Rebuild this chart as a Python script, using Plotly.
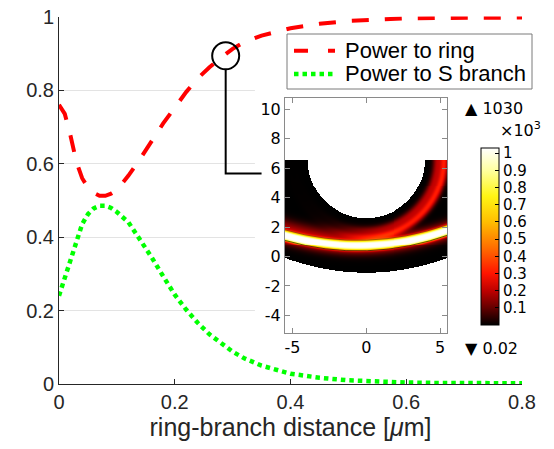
import numpy as np
import plotly.graph_objects as go

# ---------------- main chart data ----------------
dist = [0, 0.01, 0.02, 0.03, 0.04, 0.05, 0.06, 0.07, 0.08, 0.09, 0.10,
        0.12, 0.14, 0.16, 0.18, 0.20, 0.22, 0.24, 0.26, 0.28, 0.30,
        0.32, 0.35, 0.40, 0.45, 0.50, 0.55, 0.60, 0.65, 0.70, 0.75, 0.80]
p_ring = [0.76, 0.735, 0.675, 0.605, 0.56, 0.535, 0.52, 0.512, 0.512, 0.518, 0.528,
          0.567, 0.612, 0.66, 0.709, 0.752, 0.795, 0.832, 0.862, 0.888, 0.912,
          0.93, 0.948, 0.968, 0.98, 0.988, 0.992, 0.995, 0.996, 0.997, 0.997, 0.997]
p_branch = [0.24, 0.29, 0.345, 0.39, 0.435, 0.462, 0.478, 0.485, 0.485, 0.479, 0.468,
            0.44, 0.395, 0.345, 0.293, 0.243, 0.202, 0.166, 0.135, 0.11, 0.088,
            0.07, 0.05, 0.028, 0.017, 0.01, 0.006, 0.004, 0.003, 0.002, 0.002, 0.002]
series_names = ["Power to ring", "Power to S branch"]
x_ticks = [0, 0.2, 0.4, 0.6, 0.8]
y_ticks = [0, 0.2, 0.4, 0.6, 0.8, 1]

# callout (circle on the ring curve, leader line to inset)
callout_center = (0.288, 0.893)
callout_path = [(0.288, 0.856), (0.288, 0.573), (0.35, 0.573)]

# ---------------- inset field (modelled intensity map) ----------------
inset_x_ticks = [-5, 0, 5]
inset_y_ticks = [-4, -2, 0, 2, 4, 6, 8, 10]
cbar_ticks = [0.1, 0.2, 0.3, 0.4, 0.5, 0.6, 0.7, 0.8, 0.9, 1]
cbar_labels = ["0.1", "0.2", "0.3", "0.4", "0.5", "0.6", "0.7", "0.8", "0.9", "1"]
field_max = 1.03
domain_top = 6.58
hole_radius = 3.97
outer_bottom = (-1.1, 0.033)          # y = a + b x^2
band_centre = (0.75, 0.029, 0.032)    # y = a + b x^2 + c x
band_half = 0.36
ring_radii = [5.25, 4.78]
ring_amps = [0.3, 0.18]

gx = np.linspace(-5.5, 5.47, 166)
gy = np.linspace(-5.16, 10.8, 240)
X, Y = np.meshgrid(gx, gy)
inside = (Y <= domain_top) & (Y >= outer_bottom[0] + outer_bottom[1] * X**2) & \
         (X**2 + (Y - domain_top)**2 >= hole_radius**2)
yc = band_centre[0] + band_centre[1] * X**2 + band_centre[2] * X
d = Y - yc
band = 0.75 * np.exp(-(d / band_half)**4) + 0.3 * np.exp(-(d / 0.55)**2)
R = np.sqrt(X**2 + (Y - domain_top)**2)
ramp = 1 / (1 + np.exp(-(X + 0.3) / 0.9))
ring = sum(a * ramp * np.exp(-((R - r) / 0.28)**2) for r, a in zip(ring_radii, ring_amps))
glow = 0.1 * (1 - ramp) * np.exp(-((d - 0.7) / 0.5)**2)
Z = np.clip(band + ring + glow, 0, field_max)
Z = np.where(inside, Z, np.nan)

# waveguide edge lines drawn on top of the field
edge_x = gx
edge_lo = band_centre[0] + band_centre[1] * gx**2 + band_centre[2] * gx - band_half
edge_hi = edge_lo + 2 * band_half

hot = [[0.0, "rgb(0,0,0)"], [0.097, "rgb(100,0,0)"], [0.194, "rgb(190,0,0)"],
       [0.291, "rgb(255,20,0)"], [0.437, "rgb(255,110,0)"], [0.583, "rgb(255,190,0)"],
       [0.728, "rgb(255,245,20)"], [0.874, "rgb(255,255,160)"], [1.0, "rgb(255,255,255)"]]

W, H = 554, 449
def px(xp): return xp / W
def py(yp): return 1 - yp / H

fig = go.Figure()
fig.add_trace(go.Scatter(x=dist, y=p_ring, mode="lines", name=series_names[0], showlegend=False,
                         line=dict(color="#ff0000", width=4, dash="17px,16px")))
fig.add_trace(go.Scatter(x=dist, y=p_branch, mode="lines", name=series_names[1], showlegend=False,
                         line=dict(color="#00ff00", width=4.5, dash="4.5px,4px")))
fig.add_trace(go.Heatmap(x=gx, y=gy, z=Z, xaxis="x2", yaxis="y2", zmin=0, zmax=field_max,
                         colorscale=hot, showlegend=False, hoverinfo="skip",
                         colorbar=dict(x=px(481), xanchor="left", xpad=0,
                                       y=py(236.5), yanchor="middle", ypad=0,
                                       len=177, lenmode="pixels", thickness=18,
                                       thicknessmode="pixels", outlinecolor="black",
                                       outlinewidth=1, tickvals=cbar_ticks, ticktext=cbar_labels,
                                       ticks="inside", ticklen=4, tickcolor="black",
                                       tickfont=dict(family="DejaVu Sans", size=15, color="black"))))
for ey, op in ((edge_lo, 0.75), (edge_hi, 0.45)):
    fig.add_trace(go.Scatter(x=edge_x, y=ey, xaxis="x2", yaxis="y2", mode="lines",
                             showlegend=False, hoverinfo="skip",
                             line=dict(color=f"rgba(50,45,0,{op})", width=1)))

main_font = "Liberation Sans, Arial, sans-serif"
fig.update_layout(
    width=W, height=H, margin=dict(l=0, r=0, t=0, b=0, autoexpand=False),
    paper_bgcolor="white", plot_bgcolor="white", showlegend=False,
    xaxis=dict(domain=[px(59), px(522)], range=[0, 0.8], tickvals=x_ticks,
               ticktext=["0", "0.2", "0.4", "0.6", "0.8"], showgrid=False, zeroline=False,
               showline=True, linecolor="#262626", linewidth=1, ticks="inside", ticklen=5,
               tickcolor="#262626", tickfont=dict(family=main_font, size=20, color="#262626"),
               title=dict(text="ring-branch distance [<i>μ</i>m]",
                          font=dict(family=main_font, size=25, color="#262626"), standoff=3)),
    yaxis=dict(domain=[py(384), py(16.5)], range=[0, 1], tickvals=y_ticks,
               ticktext=["0", "0.2", "0.4", "0.6", "0.8", "1"], showgrid=True,
               gridcolor="#e3e3e3", gridwidth=1, zeroline=False, showline=True,
               linecolor="#262626", linewidth=1, ticks="inside", ticklen=5, tickcolor="#262626",
               tickfont=dict(family=main_font, size=20, color="#262626")),
    xaxis2=dict(domain=[px(285), px(447)], range=[-5.5, 5.47], anchor="y2",
                tickvals=inset_x_ticks, ticktext=["-5", "0", "5"], showgrid=False,
                zeroline=False, showline=True, mirror="ticks", linecolor="#8a8a8a",
                ticks="inside", ticklen=5, tickcolor="#8a8a8a",
                tickfont=dict(family="DejaVu Sans", size=16, color="black")),
    yaxis2=dict(domain=[py(332.5), py(97.5)], range=[-5.16, 10.8], anchor="x2",
                tickvals=inset_y_ticks, ticktext=[str(v) for v in inset_y_ticks],
                showgrid=False, zeroline=False, showline=True, mirror="ticks",
                linecolor="#8a8a8a", ticks="inside", ticklen=5, tickcolor="#8a8a8a",
                tickfont=dict(family="DejaVu Sans", size=16, color="black")),
)

# white backdrop of the pasted inset (hides grid lines)
fig.add_shape(type="rect", xref="x", yref="y", x0=0.3385, x1=0.8, y0=0.07, y1=0.805,
              fillcolor="white", line=dict(width=0), layer="between")
# callout circle and leader line
fig.add_shape(type="circle", xref="x", yref="y", xsizemode="pixel", ysizemode="pixel",
              xanchor=callout_center[0], yanchor=callout_center[1],
              x0=-13.5, x1=13.5, y0=-13.5, y1=13.5, line=dict(color="black", width=2))
path = "M " + " L ".join(f"{a},{b}" for a, b in callout_path)
fig.add_shape(type="path", xref="x", yref="y", path=path, line=dict(color="black", width=2))

# legend box (MATLAB style)
fig.add_shape(type="rect", xref="paper", yref="paper", x0=px(287), x1=px(532),
              y0=py(89), y1=py(34), fillcolor="white", line=dict(color="#7a7a7a", width=1),
              layer="above")
legend_rows = [py(50.7), py(74)]
legend_styles = [dict(color="#ff0000", width=4, dash="14px,20px"),
                 dict(color="#00ff00", width=4.5, dash="4.5px,4px")]
for name, ry, st in zip(series_names, legend_rows, legend_styles):
    fig.add_shape(type="line", xref="paper", yref="paper", x0=px(294), x1=px(335),
                  y0=ry, y1=ry, line=st, layer="above")
    fig.add_annotation(xref="paper", yref="paper", x=px(343), y=ry, xanchor="left",
                       yanchor="middle", text=name, showarrow=False,
                       font=dict(family=main_font, size=22, color="black"))

fig.add_annotation(xref="paper", yref="paper", x=px(463), y=py(108.5), xanchor="left",
                   yanchor="middle", text="▲ 1030", showarrow=False,
                   font=dict(family="DejaVu Sans", size=16, color="black"))
fig.add_annotation(xref="paper", yref="paper", x=px(498), y=py(130), xanchor="left",
                   yanchor="middle", text="×10<sup>3</sup>", showarrow=False,
                   font=dict(family="DejaVu Sans", size=16, color="black"))
fig.add_annotation(xref="paper", yref="paper", x=px(463), y=py(348), xanchor="left",
                   yanchor="middle", text="▼ 0.02", showarrow=False,
                   font=dict(family="DejaVu Sans", size=16, color="black"))

fig.write_html("out.html")
